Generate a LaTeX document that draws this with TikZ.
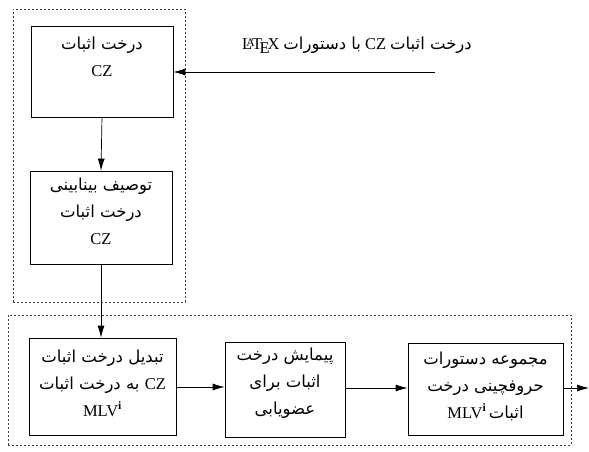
\documentclass[tikz,border=0pt]{standalone}
\usepackage{fontspec}
\setmainfont{Liberation Serif}
\newfontfamily\fa[Script=Arabic]{DejaVu Sans}
\TeXXeTstate=1
\usetikzlibrary{arrows.meta}
\newcommand\FA[1]{{\fa\fontsize{16.5}{27}\selectfont #1}}
\newcommand\LT[1]{{\fontsize{16.5}{27}\selectfont #1}}
\newcommand\SUP{\textsuperscript{\textbf{i}}}
\begin{document}
\begin{tikzpicture}[x=1pt,y=-1pt,
  box/.style={draw, line width=0.7pt, inner sep=0pt},
  txt/.style={align=center, inner sep=0pt, font=\fontsize{16}{27}\selectfont},
  grp/.style={draw, line width=0.7pt, dash pattern=on 2pt off 2pt, black!75, inner sep=0pt},
  arr/.style={line width=0.7pt, -{Latex[length=12pt,width=7pt]}}]
\useasboundingbox (0,0) rectangle (589,452);
% groups
\node[grp, minimum width=172pt, minimum height=293pt] (g1) at (99,155.5) {};
\node[grp, minimum width=563pt, minimum height=130pt] (g2) at (289.5,380) {};
% boxes
\node[box, minimum width=142pt, minimum height=91pt] (b1) at (102,71.5) {};
\node[txt] (b1t) at (102,57) {\beginR\FA{درخت اثبات}\endR\\ \LT{CZ}};
\node[box, minimum width=142pt, minimum height=93pt] (b2) at (101,217.5) {};
\node[txt] (b2t) at (101,211) {\beginR\FA{توصیف بینابینی}\endR\\ \beginR\FA{درخت اثبات}\endR\\ \LT{CZ}};
\node[box, minimum width=147pt, minimum height=97pt] (b3) at (102.5,386.5) {};
\node[txt] (b3t) at (102.5,383) {\beginR\FA{تبدیل درخت اثبات}\endR\\ \beginR\beginL\LT{CZ}\endL\FA{ به درخت اثبات}\endR\\ \LT{MLV\SUP}};
\node[box, minimum width=120pt, minimum height=95pt] (b4) at (285,389.5) {};
\node[txt] (b4t) at (285,383) {\beginR\FA{پیمایش درخت}\endR\\ \beginR\FA{اثبات برای}\endR\\ \beginR\FA{عضویابی}\endR};
\node[box, minimum width=155pt, minimum height=92pt] (b5) at (485.5,389) {};
\node[txt] (b5t) at (485.5,386) {\beginR\FA{مجموعه دستورات}\endR\\ \beginR\FA{حروفچینی درخت}\endR\\ \beginR\FA{اثبات}\,\beginL\LT{MLV\SUP}\endL\endR};
% label
\node[txt] (lbl) at (357,45) {\beginR\FA{درخت اثبات} \beginL\LT{CZ}\endL{} \FA{با دستورات} \beginL\LT{\LaTeX}\endL\endR};
\coordinate (inp) at (435,72);
\coordinate (out) at (589,388);
% connectors
\draw[arr] (inp) -- (b1.east |- inp);
\draw[arr] (b1.south) -- (b2.north);
\draw[arr] (b2.south) -- (b2.south |- b3.north);
\draw[arr] (b3.east |- 0,387) -- (b4.west |- 0,387);
\draw[arr] (b4.east |- 0,388) -- (b5.west |- 0,388);
\draw[arr] (b5.east |- out) -- (out);
\end{tikzpicture}
\end{document}
